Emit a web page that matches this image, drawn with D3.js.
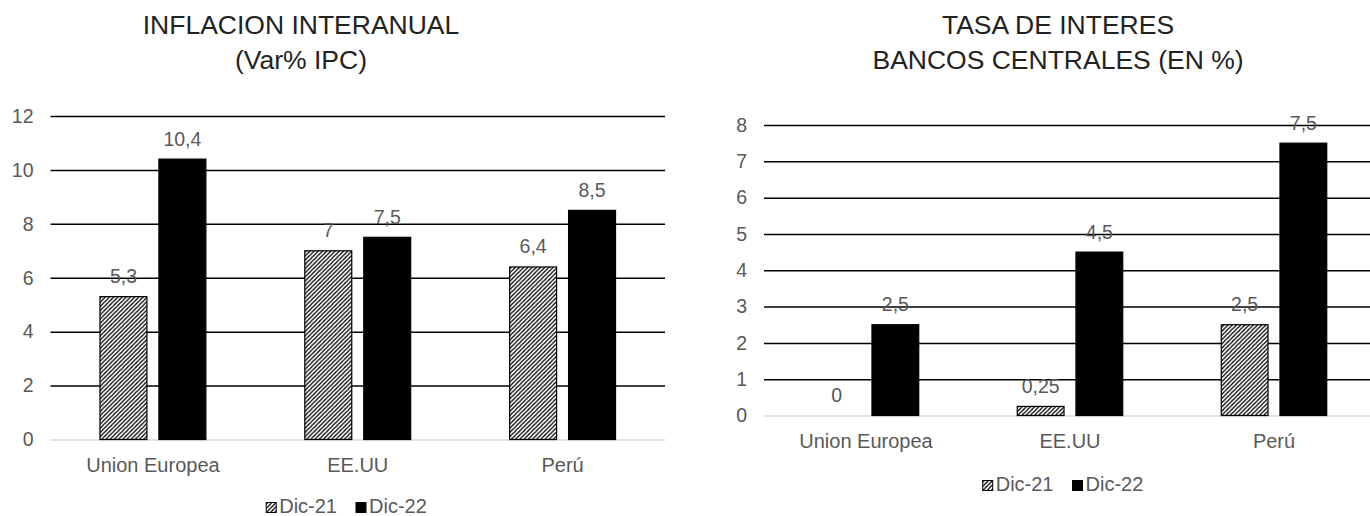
<!DOCTYPE html>
<html>
<head>
<meta charset="utf-8">
<script src="https://cdn.jsdelivr.net/npm/d3@7"></script>
<style>
  html, body { margin: 0; padding: 0; background: #fff; }
  svg { display: block; }
  text { font-family: "Liberation Sans", Arial, sans-serif; }
</style>
</head>
<body>
<svg id="chart" width="1370" height="516"></svg>
<script>
// ---- Data ----
const categories = ["Union Europea", "EE.UU", "Perú"];
const series = ["Dic-21", "Dic-22"];

const inflDic21 = [5.3, 7, 6.4];
const inflDic22 = [10.4, 7.5, 8.5];
const inflTicks = [0, 2, 4, 6, 8, 10, 12];
const inflTitle = ["INFLACION INTERANUAL", "(Var% IPC)"];

const rateDic21 = [0, 0.25, 2.5];
const rateDic22 = [2.5, 4.5, 7.5];
const rateTicks = [0, 1, 2, 3, 4, 5, 6, 7, 8];
const rateTitle = ["TASA DE INTERES", "BANCOS CENTRALES (EN %)"];

// ---- Setup ----
const svg = d3.select("#chart");
const defs = svg.append("defs");
const P = 4.2;
const pat = defs.append("pattern")
  .attr("id", "hatch")
  .attr("patternUnits", "userSpaceOnUse")
  .attr("width", P).attr("height", P);
pat.append("rect").attr("width", P).attr("height", P).attr("fill", "#fff");
pat.append("path")
  .attr("d", `M-1,1 l2,-2 M0,${P} l${P},-${P} M${P - 1},${P + 1} l2,-2`)
  .attr("stroke", "#000").attr("stroke-width", 1.3);

const fills = { "Dic-21": "url(#hatch)", "Dic-22": "#000" };
const fmt = v => String(v).replace(".", ",");

function drawChart(cfg) {
  const g = svg.append("g");
  const y = d3.scaleLinear().domain([0, cfg.ticks[cfg.ticks.length - 1]]).range(cfg.yRange);
  const x0 = d3.scaleBand().domain(categories).range(cfg.xRange).paddingInner(0).paddingOuter(0);
  const groupW = x0.bandwidth() * 0.517;
  const x1 = d3.scaleBand().domain(series).range([0, groupW]).paddingInner(12 / 59).paddingOuter(0);

  // title
  cfg.title.forEach((t, i) => {
    g.append("text").attr("x", cfg.titleX).attr("y", 34 + i * 35)
      .attr("text-anchor", "middle").attr("font-size", 26.5).attr("fill", "#222").text(t);
  });

  // y axis (gridlines + labels)
  const yAxis = d3.axisLeft(y).tickValues(cfg.ticks).tickSize(-(cfg.xRange[1] - cfg.xRange[0])).tickPadding(17);
  const ay = g.append("g").attr("transform", `translate(${cfg.xRange[0]},0)`).call(yAxis);
  ay.select(".domain").remove();
  ay.selectAll(".tick line")
    .attr("stroke", d => d === 0 ? "#d9d9d9" : "#000")
    .attr("stroke-width", 1.5);
  ay.selectAll(".tick text")
    .attr("font-size", 19.5).attr("fill", "#595959")
    .attr("font-family", "'Liberation Sans', Arial, sans-serif");

  // x axis labels
  const xAxis = d3.axisBottom(x0).tickSize(0).tickPadding(0);
  const ax = g.append("g").attr("transform", `translate(0,${cfg.yRange[0]})`).call(xAxis);
  ax.select(".domain").remove();
  ax.selectAll(".tick text")
    .attr("dy", null).attr("y", cfg.catDy)
    .attr("font-size", 20).attr("fill", "#595959")
    .attr("font-family", "'Liberation Sans', Arial, sans-serif");

  // bars
  const rows = categories.map((c, i) => ({
    cat: c,
    vals: [{ s: series[0], v: cfg.d21[i] }, { s: series[1], v: cfg.d22[i] }]
  }));
  const grp = g.selectAll("g.grp").data(rows).join("g").attr("class", "grp")
    .attr("transform", d => `translate(${x0(d.cat) + (x0.bandwidth() - groupW) / 2},0)`);
  grp.selectAll("rect").data(d => d.vals.filter(e => e.v > 0)).join("rect")
    .attr("x", d => x1(d.s))
    .attr("y", d => y(d.v))
    .attr("width", x1.bandwidth())
    .attr("height", d => y(0) - y(d.v))
    .attr("fill", d => fills[d.s])
    .attr("stroke", "#000").attr("stroke-width", 1.2);
  grp.selectAll("text.lbl").data(d => d.vals).join("text").attr("class", "lbl")
    .attr("x", d => x1(d.s) + x1.bandwidth() / 2)
    .attr("y", d => y(d.v) - 13.5)
    .attr("text-anchor", "middle").attr("font-size", 19.5).attr("fill", "#595959")
    .text(d => fmt(d.v));

  // legend
  const lg = g.append("g");
  const items = lg.selectAll("g").data(series).join("g");
  items.append("rect").attr("x", 0).attr("y", -10).attr("width", 10).attr("height", 10)
    .attr("fill", d => fills[d]).attr("stroke", "#000").attr("stroke-width", 1);
  items.append("text").attr("x", 13).attr("y", 0).attr("font-size", 20).attr("fill", "#595959").text(d => d);
  let off = 0;
  const widths = [];
  items.each(function () { widths.push(this.getBBox().width); });
  items.attr("transform", (d, i) => { const t = `translate(${off},0)`; off += widths[i] + 19; return t; });
  const total = off - 19;
  lg.attr("transform", `translate(${cfg.legendCx - total / 2},${cfg.legendY})`);
}

drawChart({
  d21: inflDic21, d22: inflDic22, ticks: inflTicks, title: inflTitle,
  xRange: [50.5, 665], yRange: [439.5, 116],
  titleX: 301, catDy: 32, legendCx: 346.5, legendY: 512.5
});

drawChart({
  d21: rateDic21, d22: rateDic22, ticks: rateTicks, title: rateTitle,
  xRange: [764, 1376], yRange: [415.5, 125],
  titleX: 1058, catDy: 32, legendCx: 1063, legendY: 490.5
});
</script>
</body>
</html>
